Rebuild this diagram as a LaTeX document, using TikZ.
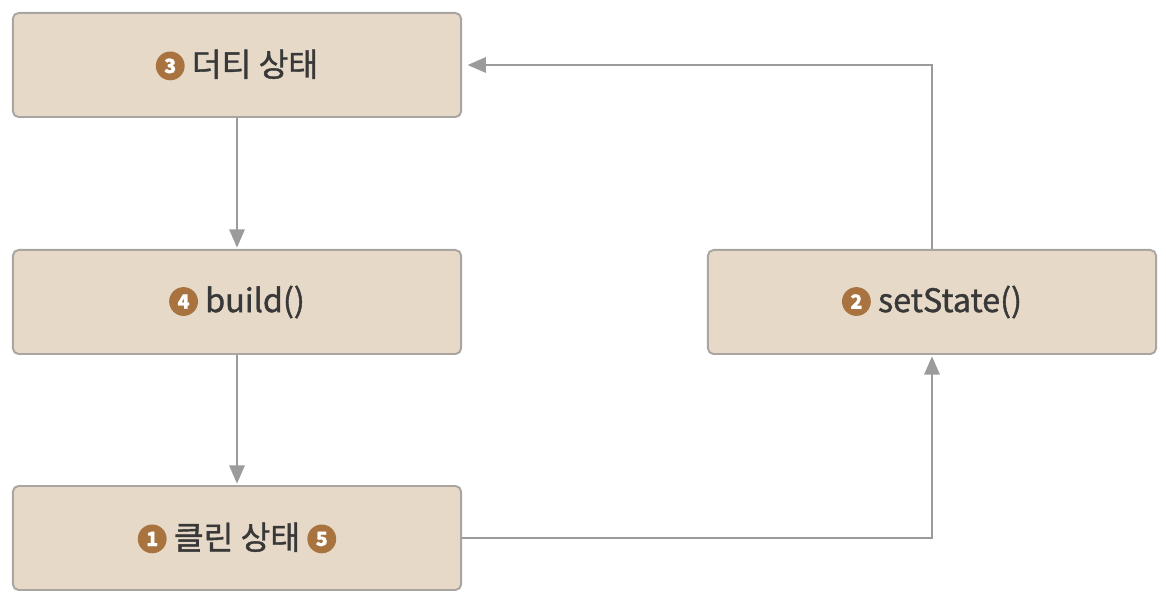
\documentclass[tikz,border=0pt]{standalone}
\usepackage{fontspec}
\setmainfont{Noto Sans CJK KR}
\newfontfamily\labelfont[FakeBold=1.2]{Noto Sans CJK KR}
\usetikzlibrary{arrows.meta}

\definecolor{boxfill}{HTML}{E6D9C8}
\definecolor{boxline}{HTML}{A9A6A1}
\definecolor{badge}{HTML}{A8733F}
\definecolor{flowline}{HTML}{9B9B9B}
\definecolor{labeltext}{HTML}{383838}

\newcommand{\stepnum}[1]{\tikz[baseline=-0.6ex]\node[circle,fill=badge,text=white,inner sep=0pt,minimum size=0.72cm,font=\bfseries\fontsize{14}{14}\selectfont]{#1};}

\begin{document}
\begin{tikzpicture}[x=0.025cm,y=-0.025cm,
    statebox/.style={draw=boxline,line width=1.4pt,fill=boxfill,rounded corners=4pt,
      minimum width=11.2cm,minimum height=2.6cm,text=labeltext,
      font=\labelfont\fontsize{23}{28}\selectfont},
    flow/.style={draw=flowline,line width=1.3pt,-{Triangle[length=13pt,width=11pt]},shorten >=1pt}]
  \useasboundingbox (0,0) rectangle (1166,596);
  \node[statebox] (dirty) at (237,65) {\stepnum{3} 더티 상태};
  \node[statebox] (build) at (237,302) {\stepnum{4} build()};
  \node[statebox] (clean) at (237,538) {\stepnum{1} 클린 상태 \stepnum{5}};
  \node[statebox] (setstate) at (932,302) {\stepnum{2} setState()};
  \draw[flow] (dirty) -- (build);
  \draw[flow] (build) -- (clean);
  \draw[flow] (clean.east) -| (setstate.south);
  \draw[flow] (setstate.north) |- ([xshift=3pt]dirty.east);
\end{tikzpicture}
\end{document}
